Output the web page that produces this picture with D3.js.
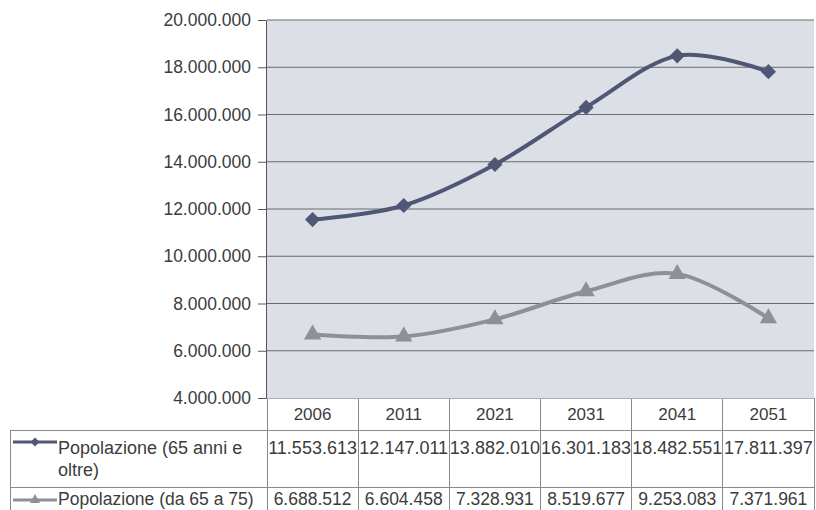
<!DOCTYPE html>
<html>
<head>
<meta charset="utf-8">
<script src="https://cdn.jsdelivr.net/npm/d3@7/dist/d3.min.js"></script>
<style>
  html, body { margin: 0; padding: 0; background: #ffffff; }
  svg { display: block; font-family: "Liberation Sans", Arial, sans-serif; }
</style>
</head>
<body>
<svg id="chart" width="816" height="510"></svg>
<script>
// ---- data ----
const years = ["2006", "2011", "2021", "2031", "2041", "2051"];
const seriesNames = ["Popolazione (65 anni e oltre)", "Popolazione (da 65 a 75)"];
const over65 = [11553613, 12147011, 13882010, 16301183, 18482551, 17811397];
const from65to75 = [6688512, 6604458, 7328931, 8519677, 9253083, 7371961];
const yTicks = [4000000, 6000000, 8000000, 10000000, 12000000, 14000000, 16000000, 18000000, 20000000];

const it = d3.formatLocale({decimal: ",", thousands: ".", grouping: [3], currency: ["€", ""]});
const fmt = it.format(",d");

const svg = d3.select("#chart");
const plot = {left: 267, right: 814, top: 20, bottom: 398};
const textColor = "#3c3c3c";
const lineColor = "#8a8a8a";

const x = d3.scaleBand().domain(years).range([plot.left, plot.right]).paddingInner(0).paddingOuter(0);
const y = d3.scaleLinear().domain([4000000, 20000000]).range([plot.bottom, plot.top]);
const cx = d => x(d) + x.bandwidth() / 2;

// plot background
svg.append("rect")
  .attr("x", plot.left).attr("y", plot.top)
  .attr("width", plot.right - plot.left).attr("height", plot.bottom - plot.top)
  .attr("fill", "#dcdfe5");

// gridlines
svg.append("g").selectAll("line").data(yTicks.filter(t => t > 4000000)).join("line")
  .attr("x1", plot.left).attr("x2", plot.right)
  .attr("y1", d => y(d)).attr("y2", d => y(d))
  .attr("stroke", "#6a6a6a").attr("stroke-width", 1);

// y axis
const yAxis = svg.append("g")
  .attr("transform", `translate(${plot.left - 1},0)`)
  .call(d3.axisLeft(y).tickValues(yTicks).tickFormat(fmt).tickSize(8).tickPadding(7));
yAxis.select(".domain").attr("stroke", "#555");
yAxis.selectAll(".tick line").attr("stroke", "#555");
yAxis.selectAll(".tick text")
  .attr("fill", textColor)
  .style("font-size", "17.5px")
  .style("font-family", '"Liberation Sans", Arial, sans-serif');

// series
const series = [
  {name: seriesNames[0], values: over65, color: "#4f5775", symbol: "diamond"},
  {name: seriesNames[1], values: from65to75, color: "#8d9098", symbol: "triangle"}
];

const line = d3.line()
  .x((d, i) => cx(years[i]))
  .y(d => y(d))
  .curve(d3.curveCardinal.tension(0));

function symbolPath(type, size) {
  return type === "diamond"
    ? d3.symbol().type(d3.symbolSquare).size(size)()
    : d3.symbol().type(d3.symbolTriangle).size(size)();
}

series.forEach(s => {
  svg.append("path")
    .attr("d", line(s.values))
    .attr("fill", "none")
    .attr("stroke", s.color)
    .attr("stroke-width", 4)
    .attr("stroke-linejoin", "round");
  svg.append("g").selectAll("path").data(s.values).join("path")
    .attr("d", symbolPath(s.symbol, s.symbol === "diamond" ? 115 : 130))
    .attr("transform", (d, i) => `translate(${cx(years[i])},${y(d)})` + (s.symbol === "diamond" ? " rotate(45)" : ""))
    .attr("fill", s.color);
});

// ---- data table ----
const tbl = {left: 10, headerBottom: 430, row1Bottom: 487, bottom: 520};
const tg = svg.append("g").attr("stroke", lineColor).attr("stroke-width", 1).attr("shape-rendering", "crispEdges");

const bounds = years.map(d => x(d)).concat([plot.right]);
tg.selectAll("line.hv").data(bounds).join("line")
  .attr("x1", d => d).attr("x2", d => d)
  .attr("y1", plot.bottom).attr("y2", tbl.headerBottom);
tg.selectAll("line.bv").data([tbl.left].concat(bounds)).join("line")
  .attr("x1", d => d).attr("x2", d => d)
  .attr("y1", tbl.headerBottom).attr("y2", tbl.bottom);
[tbl.headerBottom, tbl.row1Bottom].forEach(yy => {
  tg.append("line").attr("x1", tbl.left).attr("x2", plot.right).attr("y1", yy).attr("y2", yy);
});
tg.append("line").attr("x1", plot.left).attr("x2", plot.right).attr("y1", plot.bottom).attr("y2", plot.bottom).attr("stroke", "#b0b0b0");

// header labels
svg.append("g").selectAll("text").data(years).join("text")
  .attr("x", d => cx(d)).attr("y", 420)
  .attr("text-anchor", "middle")
  .attr("fill", textColor)
  .style("font-size", "17px")
  .text(d => d);

// rows
const rowBase = [454, 505];
const rowFont = ["18px", "17.5px"];
series.forEach((s, r) => {
  const ly = r === 0 ? 442 : 500;
  svg.append("line").attr("x1", 13).attr("x2", 57).attr("y1", ly).attr("y2", ly)
    .attr("stroke", s.color).attr("stroke-width", 3);
  svg.append("path")
    .attr("d", symbolPath(s.symbol, s.symbol === "diamond" ? 40 : 45))
    .attr("transform", `translate(35,${ly})` + (s.symbol === "diamond" ? " rotate(45)" : ""))
    .attr("fill", s.color);

  const t = svg.append("text").attr("fill", textColor).style("font-size", rowFont[r]);
  if (r === 0) {
    t.append("tspan").attr("x", 58).attr("y", rowBase[0]).text("Popolazione (65 anni e");
    t.append("tspan").attr("x", 58).attr("y", rowBase[0] + 22).text("oltre)");
  } else {
    t.attr("x", 58).attr("y", rowBase[1]).text(s.name);
  }

  svg.append("g").selectAll("text").data(s.values).join("text")
    .attr("x", (d, i) => cx(years[i])).attr("y", rowBase[r])
    .attr("text-anchor", "middle")
    .attr("fill", textColor)
    .style("font-size", rowFont[r])
    .text(d => fmt(d));
});
</script>
</body>
</html>
